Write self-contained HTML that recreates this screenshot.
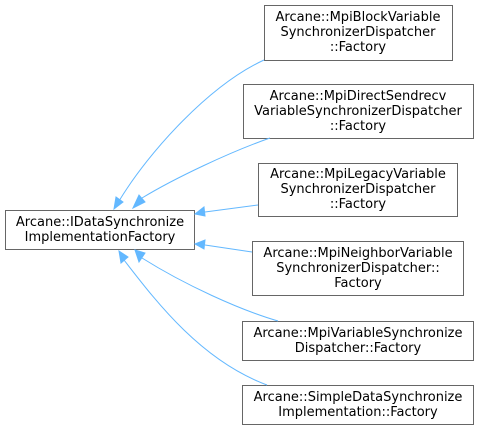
<!DOCTYPE html>
<html><head><style>body{margin:0;background:#fff}</style></head><body>
<svg width="479" height="430" xmlns="http://www.w3.org/2000/svg" font-family="DejaVu Sans, sans-serif" font-size="13" fill="#000">
<g fill="#fff" stroke="#666" stroke-width="1">
<rect x="5.5" y="210.5" width="189" height="39"/>
<rect x="264.5" y="5.5" width="188" height="55"/>
<rect x="243.5" y="84.5" width="230" height="54"/>
<rect x="258.5" y="163.5" width="199" height="53"/>
<rect x="252.5" y="241.5" width="211" height="54"/>
<rect x="242.5" y="321.5" width="231" height="39"/>
<rect x="242.5" y="385.5" width="231" height="39"/>
</g>
<g fill="none" stroke="#63b8ff" stroke-width="1">
<path d="M264,60 C210,85 150,150 119,201"/>
<path d="M270,138 C230,152 175,178 142,198"/>
<path d="M258,205 L205,212"/>
<path d="M252,252 L205,245"/>
<path d="M278,321 C240,310 185,285 142,258"/>
<path d="M267,385 C200,360 155,300 124,260"/>
</g>
<g fill="#63b8ff" stroke="#63b8ff">
<polygon points="114,209 116,197 123,202"/>
<polygon points="133,208 139,195 145,202"/>
<polygon points="195,214 204,207 205,216"/>
<polygon points="195,244 205,240 204,249"/>
<polygon points="135,250 145,253 139,262"/>
<polygon points="119,251 128,257 121,263"/>
</g>
<g text-anchor="middle">
<text x="100" y="226">Arcane::IDataSynchronize</text>
<text x="100" y="241">ImplementationFactory</text>
<text x="358" y="21">Arcane::MpiBlockVariable</text>
<text x="358" y="36">SynchronizerDispatcher</text>
<text x="358" y="51">::Factory</text>
<text x="358" y="100">Arcane::MpiDirectSendrecv</text>
<text x="358" y="115">VariableSynchronizerDispatcher</text>
<text x="358" y="130">::Factory</text>
<text x="358" y="178">Arcane::MpiLegacyVariable</text>
<text x="358" y="193">SynchronizerDispatcher</text>
<text x="358" y="208">::Factory</text>
<text x="358" y="257">Arcane::MpiNeighborVariable</text>
<text x="358" y="272">SynchronizerDispatcher::</text>
<text x="358" y="287">Factory</text>
<text x="358" y="337">Arcane::MpiVariableSynchronize</text>
<text x="358" y="352">Dispatcher::Factory</text>
<text x="358" y="401">Arcane::SimpleDataSynchronize</text>
<text x="358" y="416">Implementation::Factory</text>
</g>
</svg>
</body></html>
